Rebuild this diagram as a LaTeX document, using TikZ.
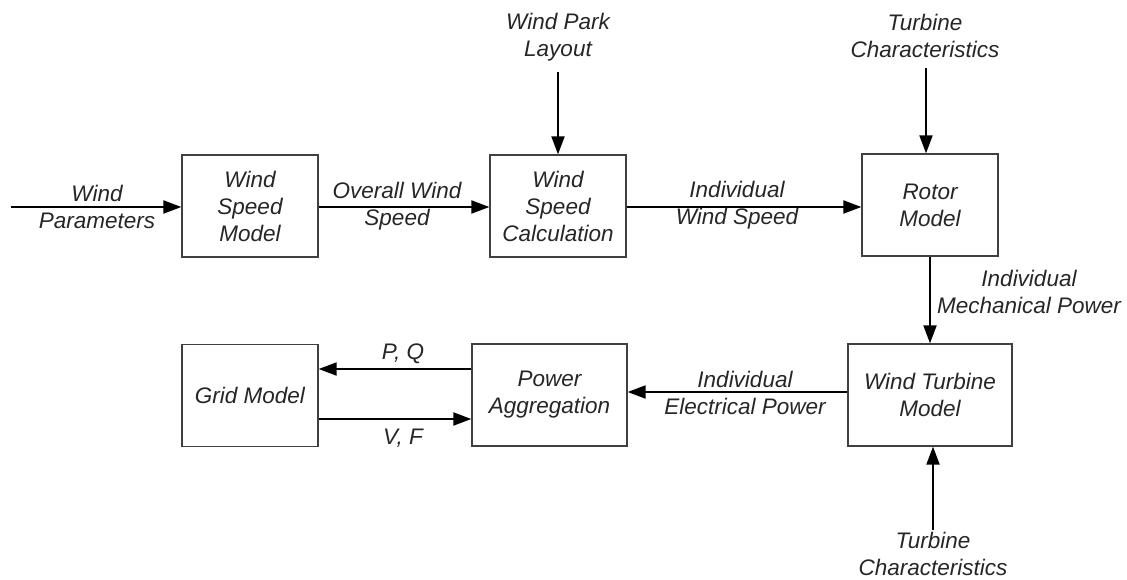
\documentclass[tikz,border=0pt]{standalone}
\usepackage{fontspec}
\setmainfont{Liberation Sans}
\usetikzlibrary{arrows.meta}
\begin{document}
\begin{tikzpicture}[x=1pt,y=-1pt,
  every node/.style={font=\fontsize{22.5}{27}\selectfont\itshape, text=black!85, align=center, inner sep=0pt},
  block/.style={draw=black!75, line width=1.3pt, fill=white, minimum width=136pt, minimum height=102pt},
  flow/.style={line width=2pt, draw=black, -{Triangle[length=18pt,width=13pt]}},
  lbl/.style={}]
\useasboundingbox (0,0) rectangle (1127,580);

% blocks
\node[block] (wsm) at (250,206) {Wind\\Speed\\Model};
\node[block] (wsc) at (558,206) {Wind\\Speed\\Calculation};
\node[block] (rot) at (930,205) {Rotor\\Model};
\node[block, minimum width=164pt] (wtm) at (930,395) {Wind Turbine\\Model};
\node[block, minimum width=155pt] (pa) at (549.5,395) {Power\\Aggregation};
\node[block] (grid) at (250,395.5) {Grid Model};

% external inputs
\coordinate (win) at (11,207);
\node[lbl] (lwp) at (97,206.5) {Wind\\Parameters};
\node[lbl] (lwpl) at (558,37.5) {Wind Park\\Layout};
\coordinate (wplin) at (558,72);
\node[lbl] (ltc1) at (925,35.5) {Turbine\\Characteristics};
\coordinate (tc1in) at (926,68);
\node[lbl] (ltc2) at (933,554) {Turbine\\Characteristics};
\coordinate (tc2in) at (933,530);

% connectors
\draw[flow] (win) -- (win -| wsm.west);
\draw[flow] (wsm.east |- 0,207) -- (wsc.west |- 0,207);
\node[lbl] (lows) at (397,206.5) {Overall Wind\\Speed};
\draw[flow] (wsc.east |- 0,207) -- (rot.west |- 0,207);
\node[lbl] (liws) at (737,205) {Individual\\Wind Speed};
\draw[flow] (wplin) -- (wplin |- wsc.north);
\draw[flow] (tc1in) -- (tc1in |- rot.north);
\draw[flow] (rot.south) -- (wtm.north);
\node[lbl] (limp) at (1029,291.5) {Individual\\Mechanical Power};
\draw[flow] (tc2in) -- (tc2in |- wtm.south);
\draw[flow] (wtm.west |- 0,392) -- (pa.east |- 0,392);
\node[lbl] (liep) at (745,392.5) {Individual\\Electrical Power};
\draw[flow] (pa.west |- 0,369) -- (grid.east |- 0,369);
\node[lbl] (lpq) at (403,354) {P, Q};
\draw[flow] (grid.east |- 0,419) -- (pa.west |- 0,419);
\node[lbl] (lvf) at (403,438) {V, F};
\end{tikzpicture}
\end{document}
